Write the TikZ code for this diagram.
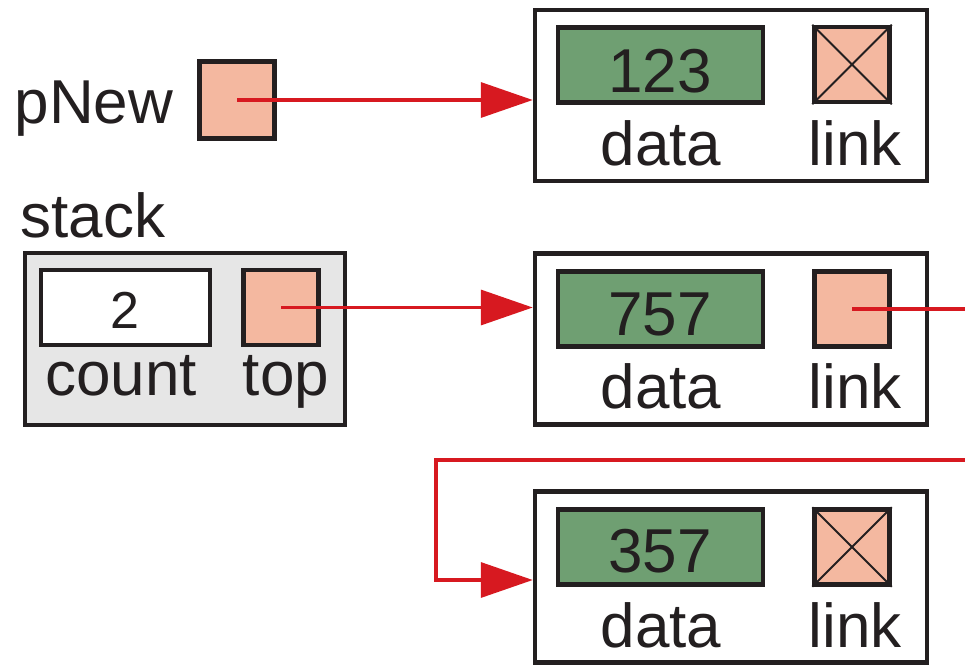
\documentclass[tikz,border=0pt]{standalone}
\usepackage{fontspec}
\setmainfont{Liberation Sans}
\usetikzlibrary{arrows.meta}
\definecolor{ink}{HTML}{231F20}
\definecolor{datagreen}{HTML}{6F9F72}
\definecolor{ptrfill}{HTML}{F4B8A0}
\definecolor{linkred}{HTML}{D71920}
\definecolor{stackgray}{HTML}{E6E6E6}
\begin{document}
\begin{tikzpicture}[x=1pt,y=-1pt,
  box/.style={draw=ink, line width=4.5pt, rectangle, inner sep=0pt},
  nodebox/.style={box, fill=white, minimum width=392pt, minimum height=171pt},
  databox/.style={box, fill=datagreen, minimum width=205pt, minimum height=75pt},
  ptrbox/.style={box, fill=ptrfill, minimum width=75pt, minimum height=75pt},
  txt/.style={anchor=base, inner sep=0pt, text=ink, font=\fontsize{62}{70}\selectfont},
  small/.style={txt, font=\fontsize{52}{60}\selectfont},
  ptr/.style={draw=linkred, line width=3.5pt, -{Triangle[length=52pt,width=35pt]}},
  nullx/.style={draw=ink, line width=2pt}]
  \clip (0,0) rectangle (965,664);

  % pNew pointer
  \node[txt] (pnewlbl) at (94,123) {pNew};
  \node[ptrbox, minimum height=77pt] (pnew) at (237,100) {};

  % stack header
  \node[txt] (stacklbl) at (93,237) {stack};
  \node[box, fill=stackgray, minimum width=320pt, minimum height=172pt] (stack) at (185,339) {};
  \node[box, fill=white, minimum width=169pt, minimum height=75pt] (count) at (125.5,307.5) {};
  \node[ptrbox] (top) at (281,307.5) {};
  \node[small] (countval) at (125,328) {2};
  \node[txt] (countlbl) at (121,395) {count};
  \node[txt] (toplbl) at (286,395) {top};

  % node 1: 123
  \node[nodebox] (n1) at (731,95.5) {};
  \node[databox] (d1) at (660.5,65) {};
  \node[ptrbox] (l1) at (852,64.5) {};
  \node[txt] (v1) at (660,92) {123};
  \node[txt] (dl1) at (661,165) {data};
  \node[txt] (ll1) at (855,165) {link};

  % node 2: 757
  \node[nodebox] (n2) at (731,339) {};
  \node[databox] (d2) at (660.5,309) {};
  \node[ptrbox] (l2) at (852,309) {};
  \node[txt] (v2) at (660,335) {757};
  \node[txt] (dl2) at (661,408) {data};
  \node[txt] (ll2) at (855,408) {link};

  % node 3: 357
  \node[nodebox] (n3) at (731,577) {};
  \node[databox] (d3) at (660.5,547) {};
  \node[ptrbox] (l3) at (852,547) {};
  \node[txt] (v3) at (660,572) {357};
  \node[txt] (dl3) at (661,647) {data};
  \node[txt] (ll3) at (855,647) {link};

  % null links
  \draw[nullx] (l1.north west) -- (l1.south east) (l1.north east) -- (l1.south west);
  \draw[nullx] (l3.north west) -- (l3.south east) (l3.north east) -- (l3.south west);

  % pointer connectors
  \coordinate (out) at (990,309);
  \coordinate (back) at (990,460);
  \coordinate (turn) at (436,460);
  \coordinate (in3) at (436,580);
  \draw[ptr] (pnew.center) -- (pnew.center -| n1.west);
  \draw[ptr] (top.center) -- (top.center -| n2.west);
  \draw[ptr] (l2.center) -- (out) -- (back) -- (turn) -- (in3) -- (in3 -| n3.west);
\end{tikzpicture}
\end{document}
